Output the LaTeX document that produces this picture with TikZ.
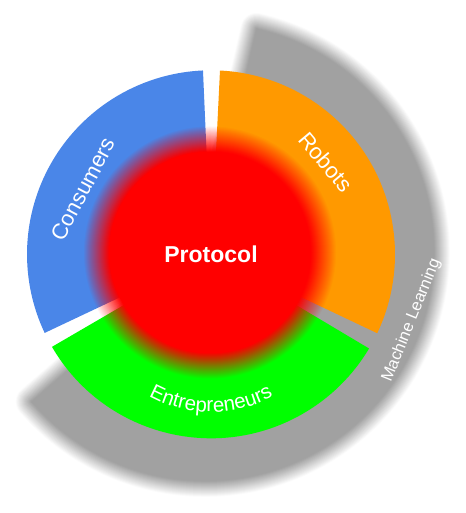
\documentclass[tikz,border=0pt]{standalone}
\usepackage{fontspec}
\setmainfont{Liberation Sans}
\usetikzlibrary{decorations.text}
\definecolor{segblue}{HTML}{4A86E8}
\definecolor{segorange}{HTML}{FF9900}
\definecolor{seggreen}{HTML}{00FF00}
\definecolor{hubred}{HTML}{FF0000}
\definecolor{bandgray}{HTML}{A1A1A1}

\begin{document}
\begin{tikzpicture}[x=1pt,y=1pt,
  seglabel/.style={text=white, inner sep=0pt, font=\fontsize{22}{26}\selectfont},
  segment/.style={draw=none}]
\useasboundingbox (0,0) rectangle (465,513);
\coordinate (pie) at (211,258.7);
\coordinate (band) at (205,261);
\coordinate (hub) at (210,260.5);
\coordinate (textarc) at (211,231);

% soft grey "Machine Learning" band behind the pie
\foreach \k in {16,15,...,1}{
  \pgfmathsetmacro{\mix}{100*(16-\k+0.5)/16}
  \pgfmathsetmacro{\lw}{2*\k}
  \draw[bandgray!\mix!white, line width=\lw pt, line join=round]
    (band) -- ++(77:229) arc[start angle=77, end angle=-139.2, radius=229] -- cycle;
}
\fill[bandgray] (band) -- ++(77:229) arc[start angle=77, end angle=-139.2, radius=229] -- cycle;

% the three pie segments
\fill[segorange, segment] (pie) -- ++(-25.4:184) arc[start angle=-25.4, end angle=87.2, radius=184] -- cycle;
\fill[segblue, segment] (pie) -- ++(92.5:184) arc[start angle=92.5, end angle=205.3, radius=184] -- cycle;
\fill[seggreen, segment] (pie) -- ++(210.2:184) arc[start angle=210.2, end angle=329.2, radius=184] -- cycle;

% soft red hub: stacked discs give a linear fall-off at the rim
\foreach \i in {1,...,26}{
  \pgfmathsetmacro{\op}{1/(27-\i)}
  \pgfmathsetmacro{\rr}{127-\i}
  \fill[hubred, opacity=\op] (hub) circle[radius=\rr];
}

% labels
\node[text=white, inner sep=0pt, font=\bfseries\fontsize{23}{28}\selectfont] (protocol) at (211,259) {Protocol};
\node[seglabel, rotate=62] (consumers) at (83,324) {Consumers};
\node[seglabel, rotate=-50] (robots) at (326,351) {Robots};
\node[seglabel, font=\fontsize{16.5}{20}\selectfont, rotate=68] (ml) at (411.5,192.5) {Machine Learning};
\path[decorate, decoration={text along path,
    text={|\fontsize{20.5}{24}\selectfont|Entrepreneurs},
    text align={center}, text color=white}]
  ([shift={(215:130)}]textarc) arc[start angle=215, end angle=325, radius=130];
\end{tikzpicture}
\end{document}
